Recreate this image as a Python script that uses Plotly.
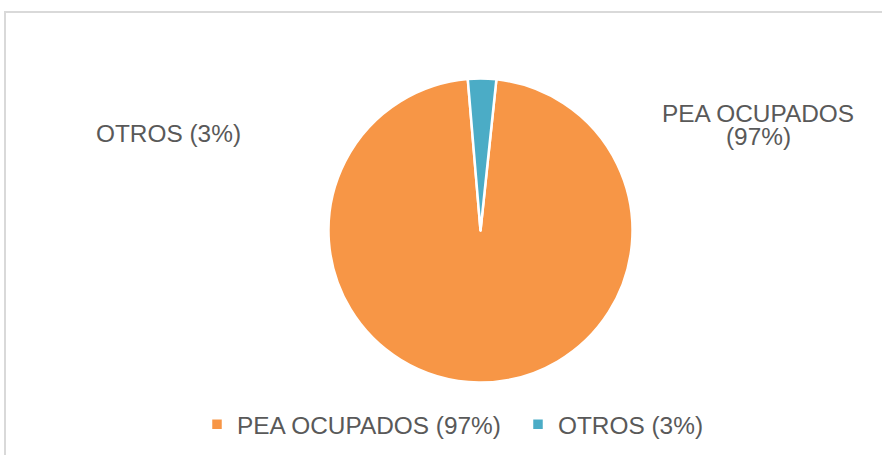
import plotly.graph_objects as go

# ---- data ----
categories = ["PEA OCUPADOS (97%)", "OTROS (3%)"]
values = [97, 3]
label_lines = [["PEA OCUPADOS", "(97%)"], ["OTROS (3%)"]]
colors = ["#F79646", "#4BACC6"]

W, H = 882, 455
FONT = "Liberation Sans, Arial, sans-serif"
TXT = "#595959"
FS = 24.4

def px_x(x):
    return x / W

def px_y(y):
    return (H - y) / H

cx, cy, r = 480.5, 230.5, 152

fig = go.Figure(
    go.Pie(
        labels=categories,
        values=values,
        sort=False,
        direction="clockwise",
        rotation=6,
        textinfo="none",
        marker=dict(colors=colors, line=dict(color="white", width=2.5)),
        domain=dict(x=[px_x(cx - r), px_x(cx + r)], y=[px_y(cy + r), px_y(cy - r)]),
        hoverinfo="label+percent",
    )
)

# label anchor (center x, first-line center y), line step
label_pos = [(758, 113.5), (168.5, 134)]
LINE_STEP = 22.5
for lines, (ax, ay) in zip(label_lines, label_pos):
    for i, line in enumerate(lines):
        fig.add_annotation(
            x=px_x(ax), y=px_y(ay + i * LINE_STEP), xref="paper", yref="paper",
            text=line, showarrow=False, xanchor="center", yanchor="middle",
            font=dict(family=FONT, size=FS, color=TXT),
        )

fig.add_shape(
    type="rect", xref="paper", yref="paper",
    x0=px_x(5), x1=px_x(W + 10), y0=px_y(H + 10), y1=px_y(12),
    line=dict(color="#D9D9D9", width=2), fillcolor="rgba(0,0,0,0)", layer="below",
)

fig.update_layout(
    width=W, height=H, autosize=False,
    margin=dict(l=0, r=0, t=0, b=0),
    paper_bgcolor="white", plot_bgcolor="white",
    font=dict(family=FONT, size=FS, color=TXT),
    showlegend=True,
    legend=dict(
        orientation="h", x=px_x(197), xanchor="left",
        y=px_y(424.5), yanchor="middle",
        font=dict(family=FONT, size=FS, color=TXT),
        entrywidth=276, entrywidthmode="pixels",
        bgcolor="rgba(0,0,0,0)",
    ),
)

fig.write_html(
    "out.html",
    config={"displayModeBar": False},
    post_script="document.body.style.margin='0px';document.body.style.overflow='hidden';",
)
